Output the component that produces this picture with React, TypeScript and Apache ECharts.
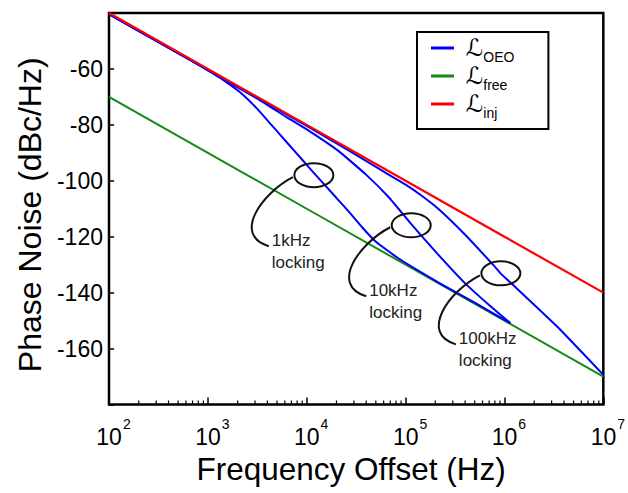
import React, { useEffect, useRef } from 'react';
import * as echarts from 'echarts';

// ---------- data ----------
const injFreq = [1e2, 1e3, 1e4, 1e5, 1e6, 1e7];
const injDb = [-40, -60, -80, -100, -120, -140];

const freeFreq = [1e2, 1e3, 1e4, 1e5, 1e6, 1e7];
const freeDb = [-70, -90, -110, -130, -150, -170];

const oeo1kFreq = [100, 316, 794, 1000, 1413, 2089, 3162, 4467, 6310, 8913, 12300, 15850, 20900, 28180, 36300, 50100, 85100, 213800, 501000, 1150000];
const oeo1kDb = [-40.4, -50.4, -58.3, -60.5, -63.8, -68.2, -74.3, -80.3, -86.3, -92.3, -97.9, -102.2, -106.9, -112.0, -116.6, -121.8, -127.8, -136.3, -143.6, -150.9];

const oeo10kFreq = [100, 1000, 3162, 6607, 10000, 20900, 39800, 67600, 114800, 213800, 398000, 708000, 1150000];
const oeo10kDb = [-40.4, -60.4, -70.6, -77.8, -81.6, -89.3, -97.8, -105.9, -115.6, -126.4, -136.6, -144.6, -150.9];

const oeo100kFreq = [100, 1000, 10000, 31600, 63100, 100000, 141000, 213800, 398000, 794000, 912000, 1150000, 3470000, 10000000];
const oeo100kDb = [-40.4, -60.4, -80.4, -90.7, -97.2, -101.4, -105.0, -110.0, -119.2, -130.6, -133.1, -136.4, -152.4, -169.4];

const lockLabels = ['1kHz', '10kHz', '100kHz'];
const lockCenterFreq = [11800, 114000, 920000];
const lockCenterDb = [-98.0, -115.9, -133.1];

const minorTickFreq = [
  200, 300, 400, 500, 600, 700, 800, 900,
  2000, 3000, 4000, 5000, 6000, 7000, 8000, 9000,
  20000, 30000, 40000, 50000, 60000, 70000, 80000, 90000,
  200000, 300000, 400000, 500000, 600000, 700000, 800000, 900000,
  2000000, 3000000, 4000000, 5000000, 6000000, 7000000, 8000000, 9000000,
];

const legendNames = ['L_OEO', 'L_free', 'L_inj'];
const legendSubs = ['OEO', 'free', 'inj'];

const FONT = '"Liberation Sans", Arial, sans-serif';
const BLUE = '#0000ff';
const GREEN = '#138a13';
const RED = '#ff0000';

const zip = (xs: number[], ys: number[]) => xs.map((x, i) => [x, ys[i]]);

export default function App() {
  const ref = useRef<HTMLDivElement>(null);

  useEffect(() => {
    if (!ref.current) return;
    const chart = echarts.init(ref.current, undefined, { renderer: 'svg' });

    const blueSeries = (data: number[][]) => ({
      type: 'line',
      name: 'L_OEO',
      data,
      symbol: 'none',
      smooth: 0.12,
      lineStyle: { color: BLUE, width: 2 },
      itemStyle: { color: BLUE },
      z: 3,
      silent: true,
    });

    chart.setOption({
      animation: false,
      grid: {
        left: 109,
        right: 22,
        top: 13,
        bottom: 88.5,
        show: true,
        borderColor: '#000',
        borderWidth: 2.5,
        backgroundColor: 'transparent',
      },
      legend: {
        data: legendNames,
        orient: 'vertical',
        left: 417,
        top: 32,
        padding: [4, 34, 9, 14],
        itemGap: 0,
        itemWidth: 23,
        itemHeight: 3,
        icon: 'rect',
        borderColor: '#000',
        borderWidth: 2,
        backgroundColor: '#fff',
        selectedMode: false,
        formatter: (n: string) => `{l|ℒ}{s|${legendSubs[legendNames.indexOf(n)]}}`,
        textStyle: {
          rich: {
            l: { fontSize: 24, lineHeight: 24, color: '#000', fontFamily: '"DejaVu Sans"', padding: [0, 0, 0, 7] },
            s: { fontSize: 14, lineHeight: 14, color: '#000', fontFamily: FONT, verticalAlign: 'bottom', padding: [0, 0, -4, 0] },
          },
        },
      },
      xAxis: {
        type: 'log',
        logBase: 10,
        min: 100,
        max: 1e7,
        axisLine: { show: false },
        axisTick: { show: true, inside: true, length: 7, lineStyle: { color: '#000', width: 1.5 } },
        splitLine: { show: false },
        axisLabel: {
          margin: 12,
          showMinLabel: true,
          showMaxLabel: true,
          hideOverlap: false,
          formatter: (v: number) => `{b|10}{s|${Math.round(Math.log10(v))}}`,
          rich: {
            b: { fontSize: 23, lineHeight: 32, color: '#000', fontFamily: FONT, verticalAlign: 'bottom', padding: [0, 0, 0, 9] },
            s: { fontSize: 14, lineHeight: 14, color: '#000', fontFamily: FONT, verticalAlign: 'top', padding: [0, 0, 0, 1] },
          },
        },
        name: 'Frequency Offset (Hz)',
        nameLocation: 'middle',
        nameGap: 38,
        nameTextStyle: { fontSize: 31.5, fontFamily: FONT, color: '#000', padding: [0, 10, 0, 0] },
      },
      yAxis: {
        type: 'value',
        min: -180,
        max: -40,
        interval: 20,
        axisLine: { show: false },
        axisTick: { show: true, inside: true, length: 5, lineStyle: { color: '#000', width: 1.5 } },
        splitLine: { show: false },
        axisLabel: {
          margin: 6,
          fontSize: 23,
          color: '#000',
          fontFamily: FONT,
          formatter: (v: number) => (v === -180 || v === -40 ? '' : String(v)),
        },
        name: 'Phase Noise (dBc/Hz)',
        nameLocation: 'middle',
        nameGap: 62,
        nameRotate: 90,
        nameTextStyle: { fontSize: 32, fontFamily: FONT, color: '#000', padding: [0, 12, 0, 0] },
      },
      series: [
        {
          type: 'line',
          name: 'L_free',
          data: zip(freeFreq, freeDb),
          symbol: 'none',
          lineStyle: { color: GREEN, width: 2 },
          itemStyle: { color: GREEN },
          z: 2,
          silent: true,
        },
        blueSeries(zip(oeo1kFreq, oeo1kDb)),
        blueSeries(zip(oeo10kFreq, oeo10kDb)),
        blueSeries(zip(oeo100kFreq, oeo100kDb)),
        {
          type: 'line',
          name: 'L_inj',
          data: zip(injFreq, injDb),
          symbol: 'none',
          lineStyle: { color: RED, width: 2.2 },
          itemStyle: { color: RED },
          z: 4,
          silent: true,
        },
        {
          type: 'custom',
          name: 'minorTicks',
          data: minorTickFreq.map((f) => [f, -180]),
          silent: true,
          z: 5,
          renderItem: (_p: any, api: any) => {
            const pt = api.coord([api.value(0), api.value(1)]);
            return {
              type: 'line',
              shape: { x1: pt[0], y1: pt[1], x2: pt[0], y2: pt[1] - 4 },
              style: { stroke: '#000', lineWidth: 1.2 },
            };
          },
        },
      ],
    });

    // annotations anchored on data positions
    const graphics: any[] = [];
    lockLabels.forEach((lab, i) => {
      const [cx, cy] = chart.convertToPixel({ gridIndex: 0 }, [lockCenterFreq[i], lockCenterDb[i]]) as number[];
      graphics.push({
        type: 'ellipse',
        shape: { cx, cy, rx: 19.5, ry: 12 },
        style: { fill: 'none', stroke: '#111', lineWidth: 2 },
        z: 10,
      });
      graphics.push({
        type: 'bezierCurve',
        shape: {
          x1: cx - 21, y1: cy + 2,
          cpx1: cx - 52, cpy1: cy + 18,
          cpx2: cx - 82, cpy2: cy + 60,
          x2: cx - 45, y2: cy + 71,
        },
        style: { fill: 'none', stroke: '#111', lineWidth: 2 },
        z: 10,
      });
      graphics.push({
        type: 'text',
        x: cx - 42,
        y: cy + 54,
        style: {
          text: `${lab}\nlocking`,
          fontSize: 17,
          fontFamily: FONT,
          fill: '#222',
          lineHeight: 22,
          align: 'left',
          verticalAlign: 'top',
        },
        z: 10,
      });
    });
    chart.setOption({ graphic: graphics });

    return () => chart.dispose();
  }, []);

  return (
    <div
      ref={ref}
      style={{ position: 'fixed', left: 0, top: 0, width: 628, height: 493, background: '#fff' }}
    />
  );
}
